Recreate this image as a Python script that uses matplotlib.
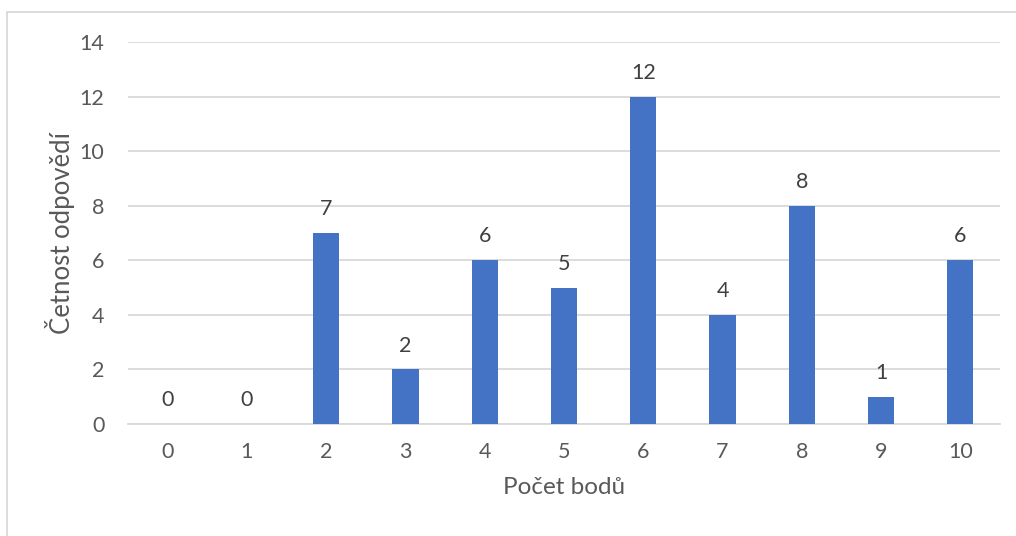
import matplotlib
matplotlib.use("Agg")
import matplotlib.pyplot as plt
from matplotlib.patches import Rectangle

# Score distribution
body = ["0", "1", "2", "3", "4", "5", "6", "7", "8", "9", "10"]
cetnost = [0, 0, 7, 2, 6, 5, 12, 4, 8, 1, 6]
y_ticks = [0, 2, 4, 6, 8, 10, 12, 14]

plt.rcParams["font.family"] = ["Lato", "DejaVu Sans"]
text_color = "#595959"
grid_color = "#d9d9d9"
bar_color = "#4472c4"

W, H = 1016, 536
fig = plt.figure(figsize=(W / 100, H / 100), dpi=100)
fig.patch.set_facecolor("white")

# outer chart frame
fig.patches.append(Rectangle((7 / W, -0.05), 1.2, 1 - 12 / H + 0.05,
                             transform=fig.transFigure, fill=False,
                             edgecolor=grid_color, linewidth=1.3))

ax = fig.add_axes([128 / W, 1 - 424 / H, (1000 - 128) / W, (424 - 42) / H])
x = list(range(len(body)))
bars = ax.bar(x, cetnost, width=0.33, color=bar_color, zorder=3)

ax.set_xlim(-0.5, len(body) - 0.5)
ax.set_ylim(0, 14)
ax.set_yticks(y_ticks)
ax.set_xticks(x)
ax.set_xticklabels(body)
ax.yaxis.grid(True, color=grid_color, linewidth=1.3, zorder=0)
ax.set_axisbelow(True)

for s in ["top", "right", "left"]:
    ax.spines[s].set_visible(False)
ax.spines["bottom"].set_color(grid_color)
ax.spines["bottom"].set_linewidth(1.3)

ax.tick_params(axis="both", length=0, labelsize=15.5, colors=text_color)
ax.tick_params(axis="x", pad=13)
ax.tick_params(axis="y", pad=17)

for xi, v in zip(x, cetnost):
    ax.annotate(str(v), (xi, v), xytext=(0, 10), textcoords="offset points",
                ha="center", va="bottom", fontsize=15.5, color="#404040")

ax.set_xlabel("Počet bodů", fontsize=17.5, color=text_color, labelpad=11)
ax.set_ylabel("Četnost odpovědí", fontsize=18.5, color=text_color, labelpad=3)

fig.savefig("out.png", dpi=100, facecolor="white")
